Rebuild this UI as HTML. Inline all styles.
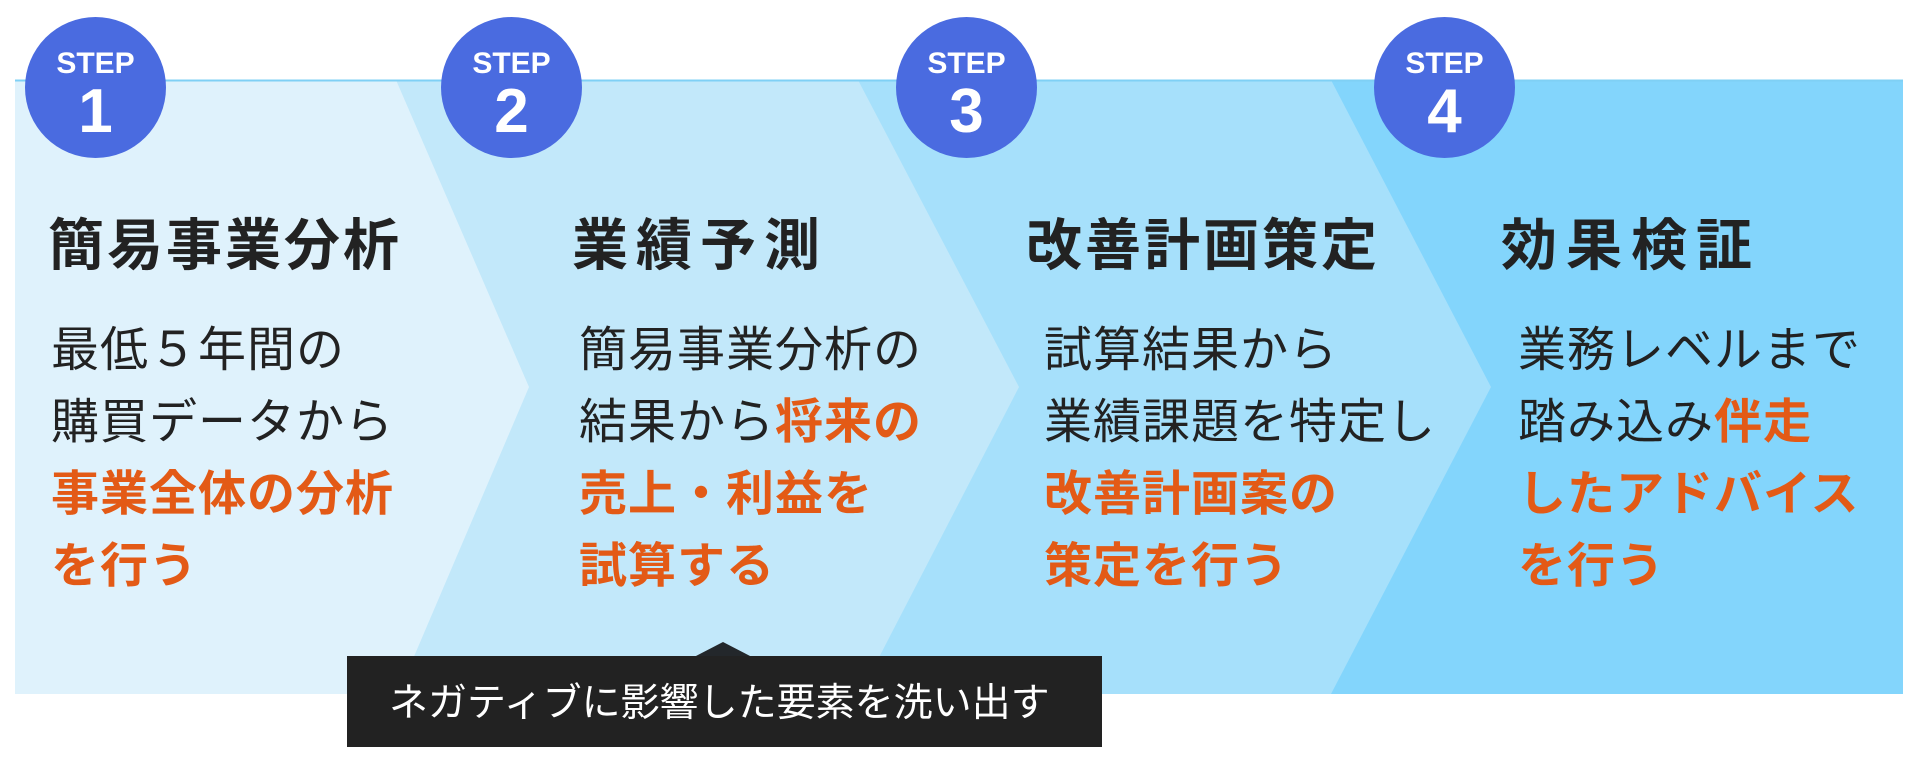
<!DOCTYPE html>
<html><head><meta charset="utf-8">
<style>
html,body{margin:0;padding:0;background:#fff;}
body{width:1920px;height:760px;position:relative;overflow:hidden;font-family:"Liberation Sans","Noto Sans CJK JP",sans-serif;}
.t{position:absolute;font-weight:bold;font-size:56px;color:#222;line-height:1;white-space:nowrap;}
.b{position:absolute;font-size:48px;color:#222;line-height:72px;white-space:nowrap;letter-spacing:1px;}
.o{color:#e35a16;font-weight:bold;}
.c{position:absolute;width:141px;height:141px;border-radius:50%;background:#4a6be0;color:#fff;text-align:center;font-family:"Liberation Sans Narrow","Liberation Sans",sans-serif;font-weight:bold;}
.c .s{position:absolute;left:0;right:0;top:32px;font-size:30px;line-height:1;}
.c .n{position:absolute;left:0;right:0;top:64px;font-size:62px;line-height:1;font-family:"Liberation Sans",sans-serif;}
</style></head><body>
<svg width="1920" height="760" style="position:absolute;left:0;top:0">
<rect x="15" y="80" width="1888" height="614" fill="#83d5fc"/>
<polygon points="15,80 1331,80 1491,387 1331,694 15,694" fill="#a6e0fb"/>
<polygon points="15,80 858,80 1019,387 860,694 15,694" fill="#c2e8fa"/>
<polygon points="15,80 396,80 529,387 398,694 15,694" fill="#dff2fc"/>
<line x1="15" y1="80.5" x2="1903" y2="80.5" stroke="#7fd0f5" stroke-width="2"/>
<polygon points="723,642 694,657 752,657" fill="#23272b"/>
<rect x="347" y="656" width="755" height="91" fill="#222"/>
<text x="389" y="716" font-size="39" fill="#fff" font-family="Liberation Sans, Noto Sans CJK JP, sans-serif">ネガティブに影響した要素を洗い出す</text>
</svg>
<div class="c" style="left:25px;top:17px"><div class="s">STEP</div><div class="n">1</div></div>
<div class="c" style="left:441px;top:17px"><div class="s">STEP</div><div class="n">2</div></div>
<div class="c" style="left:896px;top:17px"><div class="s">STEP</div><div class="n">3</div></div>
<div class="c" style="left:1374px;top:17px"><div class="s">STEP</div><div class="n">4</div></div>

<div class="t" style="left:48px;top:218px;letter-spacing:3px">簡易事業分析</div>
<div class="t" style="left:572px;top:218px;letter-spacing:8px">業績予測</div>
<div class="t" style="left:1026px;top:218px;letter-spacing:3px">改善計画策定</div>
<div class="t" style="left:1501px;top:218px;letter-spacing:9px">効果検証</div>

<div class="b" style="left:51px;top:315px">最低５年間の<br>購買データから<br><span class="o">事業全体の分析</span><br><span class="o">を行う</span></div>
<div class="b" style="left:579px;top:315px">簡易事業分析の<br>結果から<span class="o">将来の</span><br><span class="o">売上・利益を</span><br><span class="o">試算する</span></div>
<div class="b" style="left:1044px;top:315px">試算結果から<br>業績課題を特定し<br><span class="o">改善計画案の</span><br><span class="o">策定を行う</span></div>
<div class="b" style="left:1518px;top:315px">業務レベルまで<br>踏み込み<span class="o">伴走</span><br><span class="o">したアドバイス</span><br><span class="o">を行う</span></div>
</body></html>
